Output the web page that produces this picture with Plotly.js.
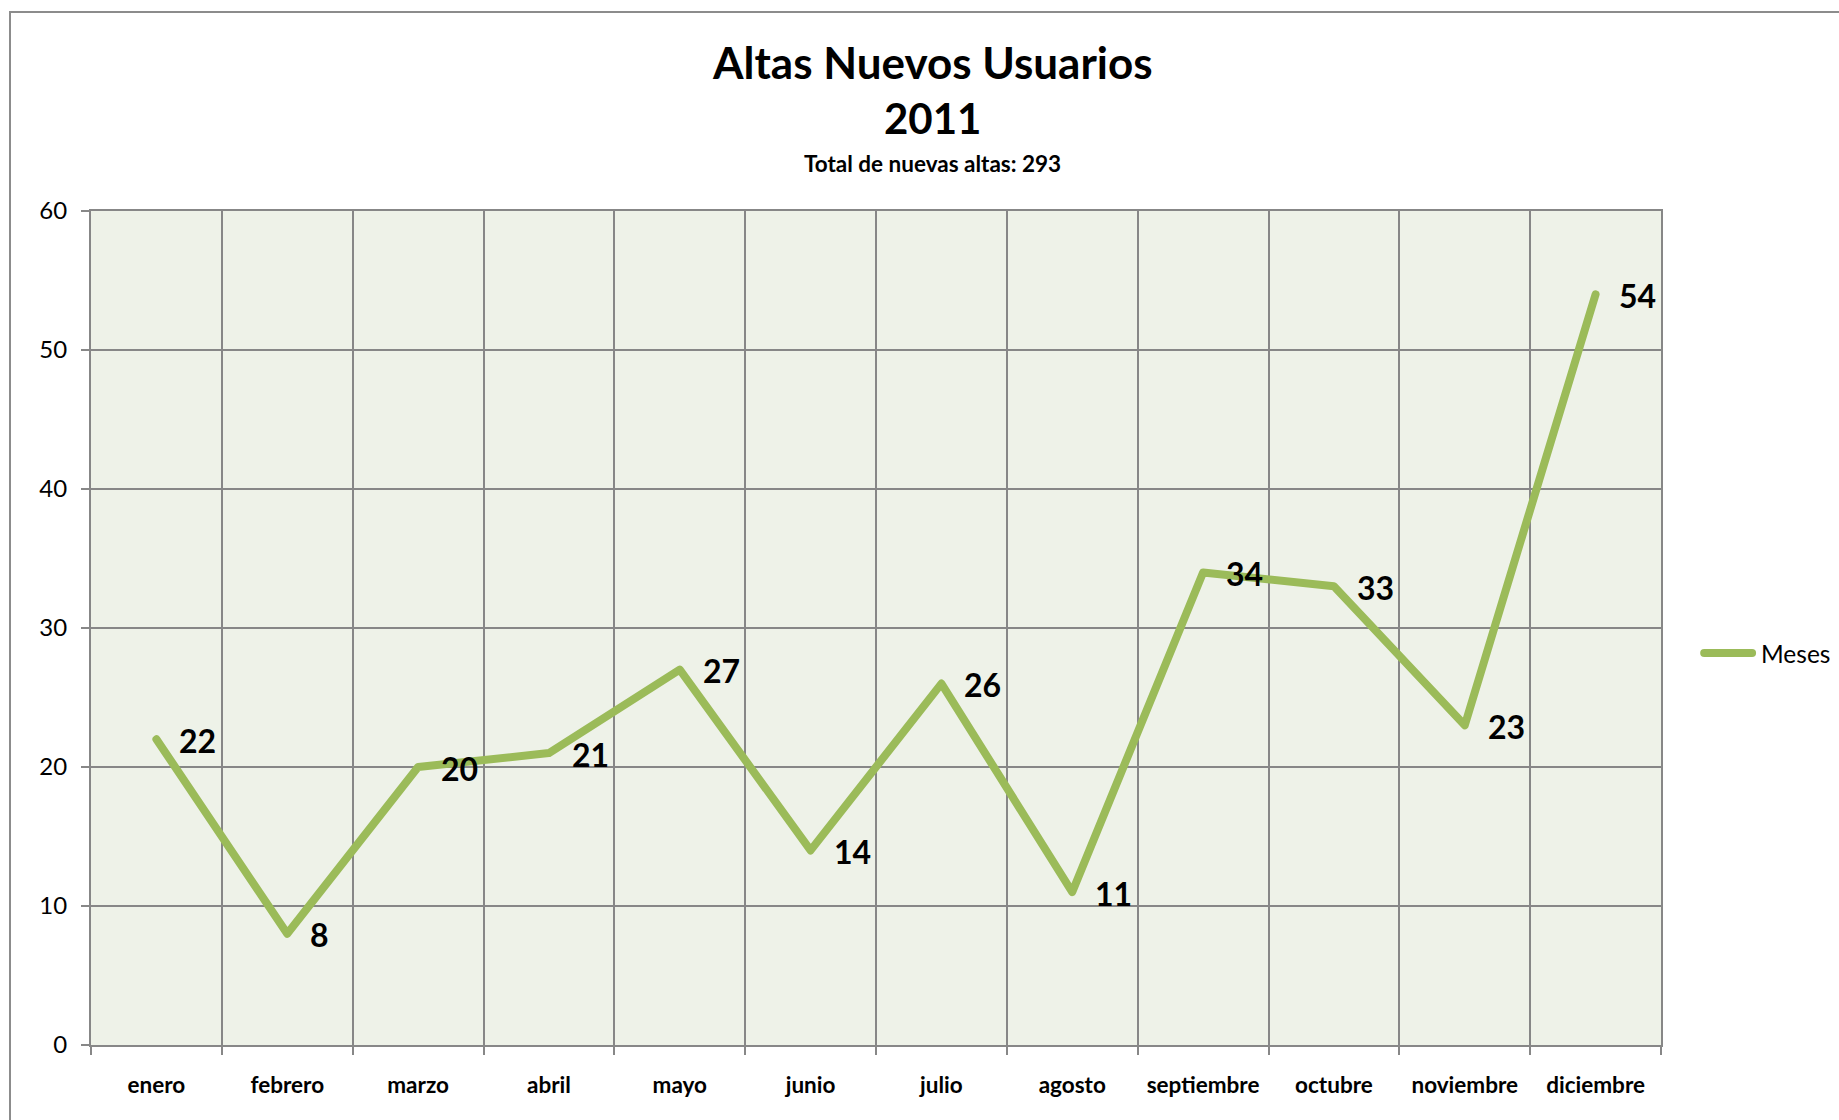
<!DOCTYPE html>
<html>
<head>
<meta charset="utf-8">
<script src="https://cdn.plot.ly/plotly-3.0.1.min.js"></script>
<style>
  html, body { margin: 0; padding: 0; background: #ffffff; overflow: hidden; }
  #frame { position: absolute; left: 9px; top: 11px; width: 2000px; height: 1300px; border: 2px solid #8c8c8c; pointer-events: none; }
  #chart { position: absolute; left: 0; top: 0; width: 1839px; height: 1120px; }
  #chart .scatterlayer path.js-line { stroke-linecap: round; stroke-linejoin: round; }
  #chart .shapelayer path { stroke-linecap: round; }
</style>
</head>
<body>
<div id="frame"></div>
<div id="chart"></div>
<script>
const months = ["enero", "febrero", "marzo", "abril", "mayo", "junio", "julio", "agosto", "septiembre", "octubre", "noviembre", "diciembre"];
const altas = [22, 8, 20, 21, 27, 14, 26, 11, 34, 33, 23, 54];
const seriesName = "Meses";
const titleLine1 = "Altas Nuevos Usuarios";
const titleLine2 = "2011";
const subtitle = "Total de nuevas altas: 293";
const yTicks = [0, 10, 20, 30, 40, 50, 60];

const FONT = "Lato, 'Open Sans', sans-serif";
const GRID = "#878787";
const GREEN = "#9bbb59";

const trace = {
  type: "scatter",
  mode: "lines",
  name: seriesName,
  x: months,
  y: altas,
  line: { color: GREEN, width: 8 },
  showlegend: false,
  cliponaxis: false,
  hoverinfo: "x+y"
};

const dataLabels = months.map((m, i) => ({
  x: m, y: altas[i], xref: "x", yref: "y",
  text: "<b>" + String(altas[i]) + "</b>",
  xanchor: "left", yanchor: "middle",
  xshift: 21, yshift: -1,
  showarrow: false,
  font: { family: FONT, size: 32, color: "#000000" }
}));

const titleAnnotations = [
  { text: "<b>" + titleLine1 + "</b>", xref: "paper", yref: "paper", x: 0.5357, y: 1.1787, xanchor: "center", yanchor: "middle", showarrow: false, font: { family: FONT, size: 44, color: "#000000" } },
  { text: "<b>" + titleLine2 + "</b>", xref: "paper", yref: "paper", x: 0.5357, y: 1.1115, xanchor: "center", yanchor: "middle", showarrow: false, font: { family: FONT, size: 42, color: "#000000" } },
  { text: "<b>" + subtitle + "</b>", xref: "paper", yref: "paper", x: 0.5357, y: 1.0564, xanchor: "center", yanchor: "middle", showarrow: false, font: { family: FONT, size: 22.5, color: "#000000" } }
];

const legendText = {
  text: seriesName, xref: "paper", yref: "paper", x: 1.0625, y: 0.470,
  xanchor: "left", yanchor: "middle", showarrow: false,
  font: { family: FONT, size: 24.5, color: "#000000" }
};

const layout = {
  width: 1839,
  height: 1120,
  margin: { l: 91, r: 178, t: 211, b: 75 },
  paper_bgcolor: "rgba(0,0,0,0)",
  plot_bgcolor: "#eef2e8",
  font: { family: FONT, color: "#000000" },
  showlegend: false,
  xaxis: {
    type: "category",
    categoryorder: "array",
    categoryarray: months,
    range: [-0.5, months.length - 0.5],
    tickson: "boundaries",
    ticks: "outside",
    ticklen: 8,
    tickwidth: 2,
    tickcolor: GRID,
    showgrid: true,
    gridcolor: GRID,
    gridwidth: 2,
    showline: true,
    linecolor: GRID,
    linewidth: 2,
    mirror: true,
    tickfont: { family: FONT, size: 22.5, color: "#000000", weight: "bold" },
    ticklabelstandoff: 19,
    fixedrange: true
  },
  yaxis: {
    range: [0, 60],
    tickvals: yTicks,
    ticktext: yTicks.map(String),
    ticks: "outside",
    ticklen: 8,
    tickwidth: 2,
    tickcolor: GRID,
    showgrid: true,
    gridcolor: GRID,
    gridwidth: 2,
    zeroline: false,
    showline: true,
    linecolor: GRID,
    linewidth: 2,
    mirror: true,
    tickfont: { family: FONT, size: 24, color: "#000000" },
    ticklabelstandoff: 9,
    fixedrange: true
  },
  shapes: [
    { type: "line", xref: "paper", yref: "paper", x0: 1.0275, x1: 1.0580, y0: 0.470, y1: 0.470, line: { color: GREEN, width: 8 } }
  ],
  annotations: titleAnnotations.concat(dataLabels, [legendText])
};

Plotly.newPlot("chart", [trace], layout, { displayModeBar: false, responsive: false });
</script>
</body>
</html>
